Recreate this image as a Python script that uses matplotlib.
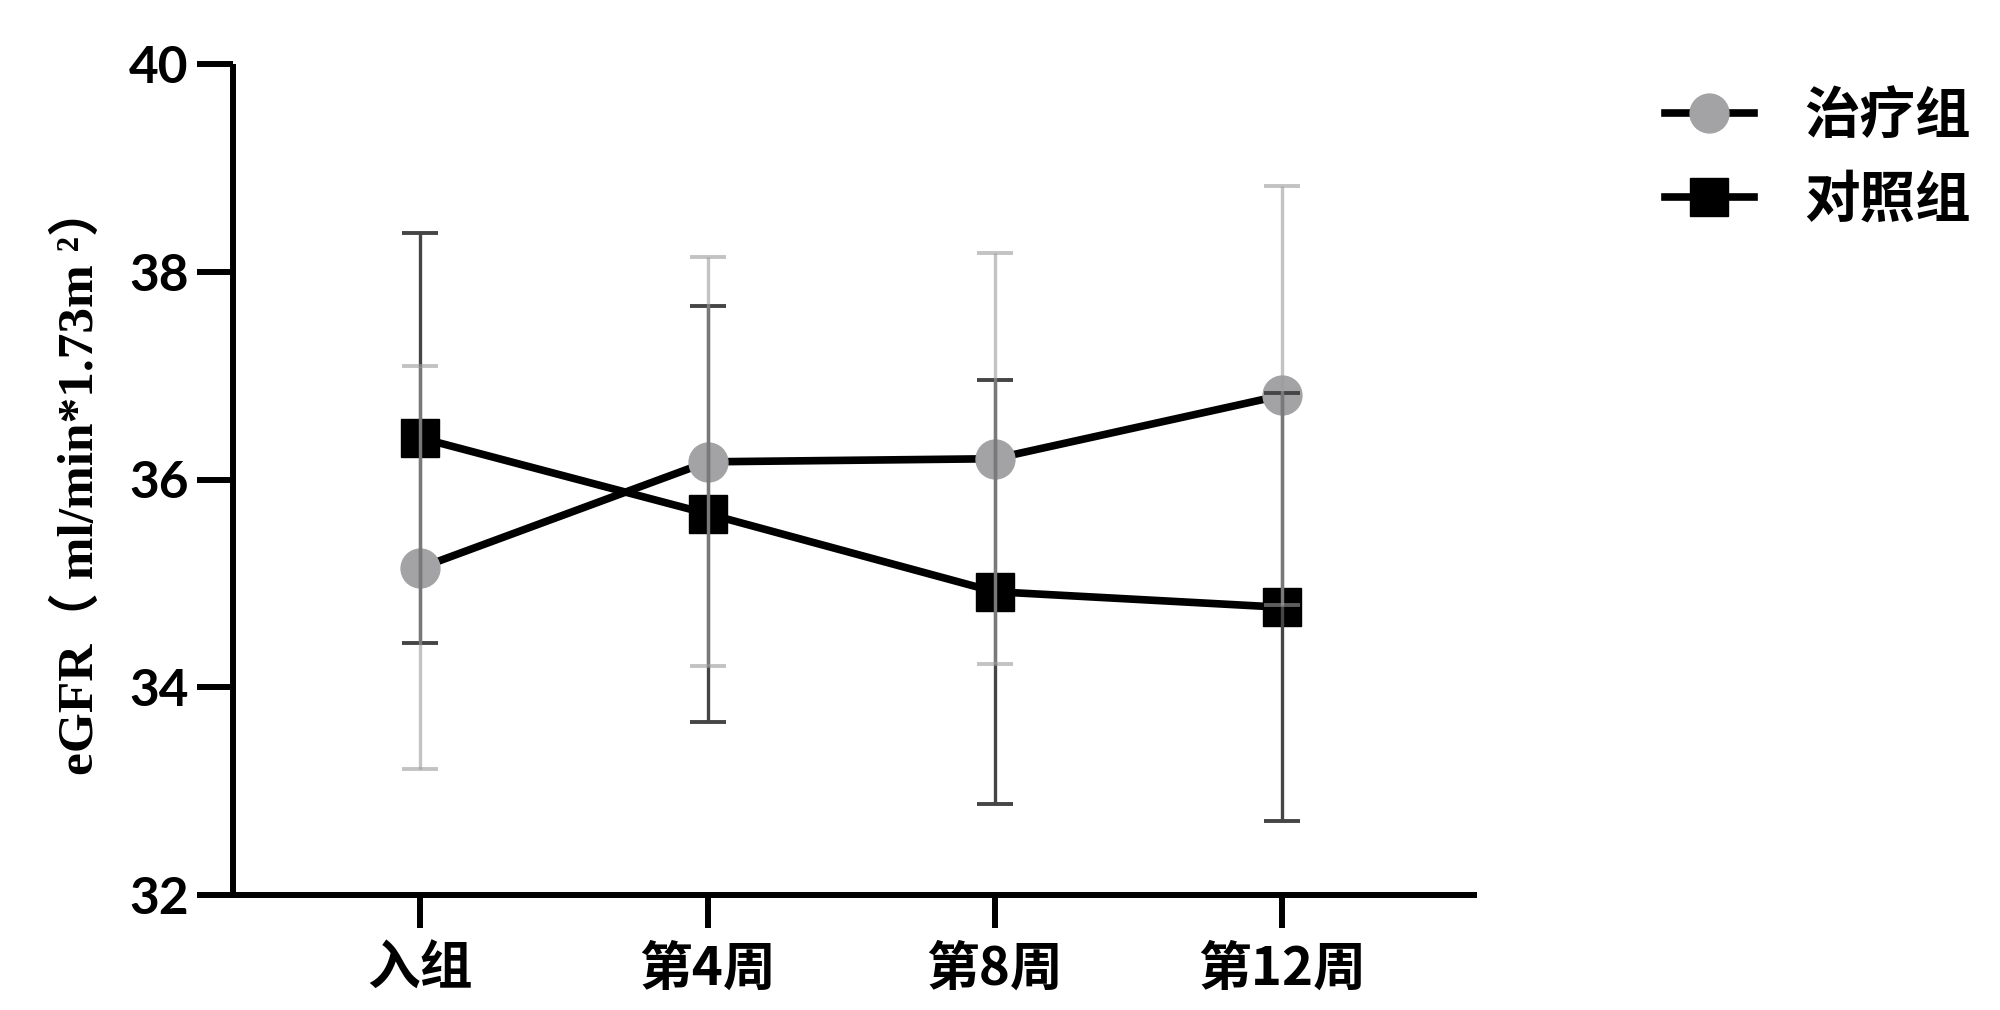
import numpy as np
import matplotlib
matplotlib.use('Agg')
import matplotlib.pyplot as plt

plt.rcParams['font.family'] = ['Noto Sans CJK SC', 'DejaVu Sans']

weeks = ['入组', '第4周', '第8周', '第12周']
groups = ['治疗组', '对照组']

treat_mean = [35.15, 36.17, 36.20, 36.81]
treat_sd = [1.94, 1.97, 1.98, 2.02]
ctrl_mean = [36.40, 35.67, 34.92, 34.77]
ctrl_sd = [1.97, 2.00, 2.04, 2.06]

x = np.arange(len(weeks))

fig = plt.figure(figsize=[20, 10.1], dpi=100)
ax = fig.add_axes([233 / 2000, 1 - 895 / 1010, (1477 - 233) / 2000, (895 - 64) / 1010])

# lines + markers
ax.plot(x, treat_mean, color='black', lw=5.5, marker='o', ms=28,
        mfc='#a3a3a6', mec='#a3a3a6', label=groups[0], zorder=2)
ax.plot(x, ctrl_mean, color='black', lw=5.5, marker='s', ms=27,
        mfc='black', mec='black', label=groups[1], zorder=2)

# error bars drawn over the markers
ax.errorbar(x, ctrl_mean, yerr=ctrl_sd, fmt='none', ecolor='#454545',
            elinewidth=2.4, capsize=13, capthick=2.8, zorder=3)
ax.errorbar(x, treat_mean, yerr=treat_sd, fmt='none', ecolor='#9c9c9c',
            alpha=0.6, elinewidth=2.4, capsize=13, capthick=2.8, zorder=4)

ax.set_xlim(-0.653, 3.68)
ax.set_ylim(32, 40)
ax.set_yticks([32, 34, 36, 38, 40])
ax.set_xticks(x)
ax.set_xticklabels(weeks, fontsize=38, fontweight='bold',
                   family=['Noto Sans CJK SC', 'DejaVu Sans'])
for lab in ax.get_yticklabels():
    lab.set_fontfamily(['Lato', 'DejaVu Sans'])
    lab.set_fontweight('bold')
    lab.set_fontsize(37)

for s in ['top', 'right']:
    ax.spines[s].set_visible(False)
for s in ['left', 'bottom']:
    ax.spines[s].set_linewidth(4.3)
    ax.spines[s].set_capstyle('butt')
ax.tick_params(axis='y', length=26, width=4.3, pad=6)
ax.tick_params(axis='x', length=24, width=4.3, pad=10)

ax.set_ylabel('eGFR（ ml/min*1.73m ²）', fontsize=37, fontweight='bold',
              family=['Liberation Serif', 'Noto Sans CJK SC'], labelpad=18)

leg = ax.legend(loc='upper left', bbox_to_anchor=(0.8325, 0.912),
                bbox_transform=fig.transFigure, frameon=False, fontsize=40,
                handlelength=1.6, handletextpad=0.9, labelspacing=0.5,
                borderpad=0, borderaxespad=0)
for t in leg.get_texts():
    t.set_fontfamily(['Noto Sans CJK SC', 'DejaVu Sans'])
    t.set_fontweight('bold')

plt.savefig('out.png', dpi=100)
